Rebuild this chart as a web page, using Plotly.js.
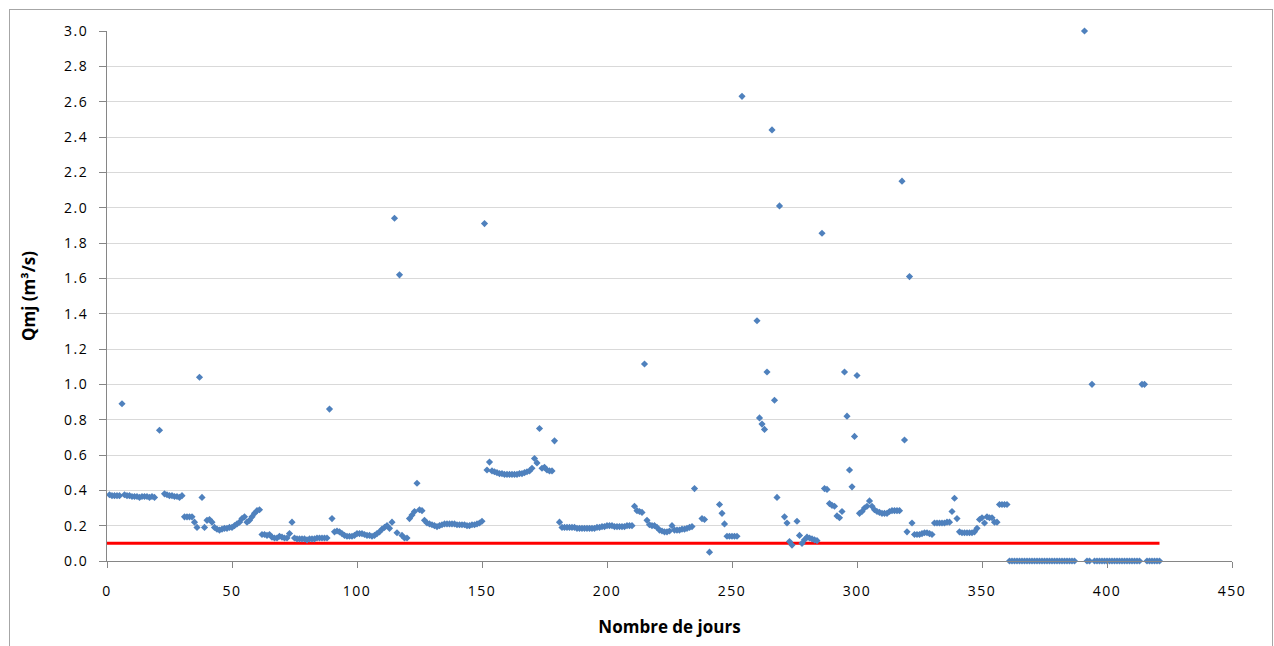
<!DOCTYPE html>
<html><head><meta charset="utf-8">
<script src="https://cdn.plot.ly/plotly-3.0.1.min.js"></script>
<style>
html,body{margin:0;padding:0;background:#fff;overflow:hidden;}
#chart{position:absolute;left:0;top:0;width:1274px;height:646px;}
#frame{position:absolute;left:9px;top:9px;width:1264px;height:680px;border:1px solid #a6a6a6;box-sizing:border-box;pointer-events:none;}
.xtick text,.ytick text{letter-spacing:1.5px;}
</style></head>
<body><div id="chart"></div><div id="frame"></div>
<script>
// Débit moyen journalier Qmj (m3/s), jour 1 à 421 (null = pas de point)
const qmj_001_060 = [
  0.375,0.37,0.37,0.37,0.37,0.89,0.375,0.37,0.37,0.365,
  0.365,0.365,0.36,0.365,0.365,0.365,0.36,0.365,0.36,null,
  0.74,null,0.38,0.375,0.37,0.37,0.365,0.365,0.36,0.37,
  0.25,0.25,0.25,0.25,0.22,0.19,1.04,0.36,0.19,0.23,
  0.235,0.22,0.19,0.18,0.175,0.18,0.185,0.185,0.19,0.19,
  0.2,0.21,0.22,0.24,0.25,0.22,0.23,0.25,0.27,0.285];
const qmj_061_120 = [
  0.29,0.15,0.15,0.145,0.15,0.135,0.13,0.13,0.14,0.135,
  0.13,0.13,0.155,0.22,0.13,0.125,0.125,0.125,0.125,0.12,
  0.125,0.125,0.125,0.13,0.13,0.13,0.13,0.13,0.86,0.24,
  0.165,0.17,0.165,0.155,0.145,0.14,0.14,0.14,0.145,0.155,
  0.155,0.155,0.15,0.145,0.145,0.14,0.145,0.155,0.165,0.18,
  0.19,0.2,0.185,0.22,1.94,0.16,1.62,0.145,0.13,0.13];
const qmj_121_180 = [
  0.24,0.26,0.28,0.44,0.29,0.285,0.23,0.215,0.21,0.205,
  0.2,0.195,0.2,0.205,0.21,0.21,0.21,0.21,0.21,0.205,
  0.205,0.205,0.205,0.2,0.2,0.205,0.205,0.21,0.215,0.225,
  1.91,0.515,0.56,0.51,0.505,0.5,0.495,0.495,0.49,0.49,
  0.49,0.49,0.49,0.49,0.495,0.495,0.5,0.505,0.51,0.525,
  0.58,0.555,0.75,0.525,0.53,0.515,0.51,0.51,0.68,null];
const qmj_181_240 = [
  0.22,0.19,0.19,0.19,0.19,0.19,0.19,0.185,0.185,0.185,
  0.185,0.185,0.185,0.185,0.185,0.19,0.19,0.195,0.195,0.2,
  0.2,0.2,0.195,0.195,0.195,0.195,0.195,0.2,0.2,0.2,
  0.31,0.285,0.28,0.275,1.115,0.23,0.205,0.2,0.2,0.19,
  0.175,0.17,0.165,0.165,0.17,0.2,0.175,0.175,0.175,0.18,
  0.18,0.185,0.19,0.195,0.41,null,null,0.24,0.235,null];
const qmj_241_300 = [
  0.05,null,null,null,0.32,0.27,0.21,0.14,0.14,0.14,
  0.14,0.14,null,2.63,null,null,null,null,null,1.36,
  0.81,0.775,0.745,1.07,null,2.44,0.91,0.36,2.01,null,
  0.25,0.215,0.11,0.09,null,0.225,0.145,0.1,0.12,0.135,
  0.13,0.125,0.12,0.115,null,1.855,0.41,0.405,0.325,0.315,
  0.31,0.255,0.245,0.28,1.07,0.82,0.515,0.42,0.705,1.05];
const qmj_301_360 = [
  0.27,0.28,0.3,0.31,0.34,0.31,0.29,0.28,0.275,0.27,
  0.27,0.27,0.28,0.285,0.285,0.285,0.285,2.15,0.685,0.165,
  1.61,0.215,0.15,0.15,0.15,0.155,0.16,0.16,0.155,0.15,
  0.215,0.215,0.215,0.215,0.215,0.22,0.22,0.28,0.355,0.24,
  0.165,0.16,0.16,0.16,0.16,0.16,0.165,0.185,0.235,0.245,
  0.215,0.25,0.245,0.245,0.22,0.22,0.32,0.32,0.32,0.32];
const qmj_361_421 = [
  0,0,0,0,0,0,0,0,0,0,
  0,0,0,0,0,0,0,0,0,0,
  0,0,0,0,0,0,0,null,null,null,
  3.0,0,0,1.0,0,0,0,0,0,0,
  0,0,0,0,0,0,0,0,0,0,
  0,0,0,1.0,1.0,0,0,0,0,0,
  0];
const premierJour = 1;
// Seuil (débit réservé) tracé en rouge
const seuilValeur = 0.1;
const seuilJours = [0, 421];
const xTicks = [0,50,100,150,200,250,300,350,400,450];
const yTicks = [0.0,0.2,0.4,0.6,0.8,1.0,1.2,1.4,1.6,1.8,2.0,2.2,2.4,2.6,2.8,3.0];

const qmj = [].concat(qmj_001_060, qmj_061_120, qmj_121_180, qmj_181_240, qmj_241_300, qmj_301_360, qmj_361_421);
const jours = qmj.map((v, i) => premierJour + i);

const font = 'Open Sans, Noto Sans, sans-serif';
const traces = [
  {type:'scatter', mode:'lines', x: seuilJours, y: seuilJours.map(() => seuilValeur),
   line:{color:'#ff0000', width:3}, hoverinfo:'skip', showlegend:false},
  {type:'scatter', mode:'markers', x: jours, y: qmj, cliponaxis:false,
   marker:{symbol:'diamond', size:5.5, color:'#4f81bd', line:{width:0}}, showlegend:false}
];
const layout = {
  width:1274, height:646,
  margin:{l:107, r:42, t:31, b:85},
  paper_bgcolor:'#ffffff', plot_bgcolor:'#ffffff',
  showlegend:false,
  font:{family:font, color:'#000'},
  xaxis:{range:[0,450], tickvals:xTicks, ticktext:xTicks.map(String), showgrid:false, zeroline:false,
    showline:true, linecolor:'#868686', linewidth:1, ticks:'outside', ticklen:6, tickcolor:'#868686',
    ticklabelstandoff:11,
    tickfont:{family:font, size:14, color:'#000'},
    title:{text:'Nombre de jours', standoff:22, font:{family:font, size:17, color:'#000', weight:'bold'}}},
  yaxis:{range:[0,3], tickvals:yTicks, ticktext:yTicks.map(v => v.toFixed(1)), showgrid:true, gridcolor:'#d9d9d9', gridwidth:1,
    zeroline:false, showline:true, linecolor:'#868686', linewidth:1, ticks:'outside', ticklen:7, tickcolor:'#868686',
    ticklabelstandoff:8,
    tickfont:{family:font, size:14, color:'#000'},
    title:{text:'Qmj (m³/s)', standoff:24, font:{family:font, size:17, color:'#000', weight:'bold'}}}
};
Plotly.newPlot('chart', traces, layout, {displayModeBar:false, staticPlot:true});
</script>
</body></html>
